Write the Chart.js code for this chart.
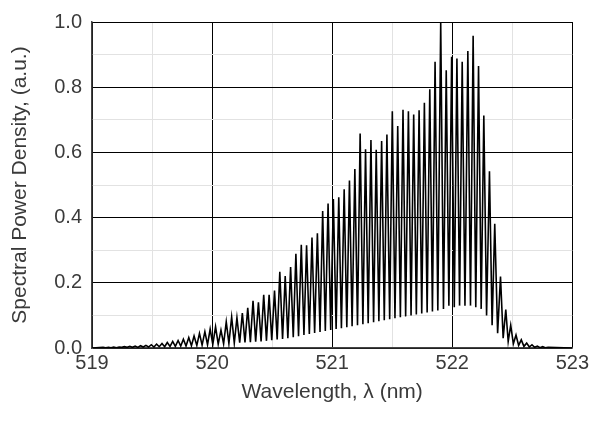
<!DOCTYPE html>
<html>
<head>
<meta charset="utf-8">
<script src="https://cdn.jsdelivr.net/npm/chart.js@4.4.1/dist/chart.umd.min.js"></script>
<style>
  html, body { margin: 0; padding: 0; background: #fff; }
  #wrap { width: 592px; height: 421px; }
</style>
</head>
<body>
<div id="wrap"><canvas id="spectrum"></canvas></div>
<script>
// fringe maxima (nm, a.u.)
var peakWl = [
  519.092, 519.137, 519.181, 519.226, 519.270, 519.315, 519.360, 519.404, 519.449, 519.494,
  519.538, 519.583, 519.627, 519.672, 519.717, 519.761, 519.806, 519.850, 519.895, 519.940,
  519.984, 520.029, 520.074, 520.118, 520.163, 520.207, 520.252, 520.297, 520.341, 520.386,
  520.430, 520.475, 520.520, 520.564, 520.609, 520.654, 520.698, 520.743, 520.787, 520.832,
  520.877, 520.921, 520.966, 521.010, 521.055, 521.100, 521.144, 521.189, 521.233, 521.278,
  521.323, 521.367, 521.412, 521.456, 521.501, 521.546, 521.590, 521.635, 521.679, 521.724,
  521.768, 521.813, 521.857, 521.904, 521.950, 521.995, 522.039, 522.083, 522.130, 522.174,
  522.219, 522.263, 522.310, 522.354, 522.402, 522.446, 522.487, 522.531, 522.575, 522.620,
  522.664, 522.709, 522.753, 522.798
];
var peakVal = [
  0.002, 0.002, 0.003, 0.003, 0.004, 0.005, 0.006, 0.007, 0.008, 0.010,
  0.012, 0.014, 0.017, 0.020, 0.023, 0.027, 0.032, 0.037, 0.045, 0.050,
  0.058, 0.065, 0.055, 0.080, 0.095, 0.093, 0.107, 0.123, 0.145, 0.140,
  0.163, 0.163, 0.176, 0.234, 0.221, 0.248, 0.289, 0.317, 0.315, 0.339,
  0.352, 0.420, 0.443, 0.457, 0.462, 0.487, 0.514, 0.549, 0.658, 0.610,
  0.638, 0.608, 0.635, 0.655, 0.726, 0.681, 0.731, 0.726, 0.716, 0.729,
  0.752, 0.794, 0.878, 1.000, 0.852, 0.893, 0.888, 0.878, 0.911, 0.958,
  0.865, 0.713, 0.542, 0.381, 0.219, 0.118, 0.070, 0.040, 0.025, 0.015,
  0.010, 0.006, 0.004, 0.002
];
// fringe minima
var troughWl = [
  519.114, 519.159, 519.203, 519.248, 519.293, 519.337, 519.382, 519.427, 519.471, 519.516,
  519.560, 519.605, 519.650, 519.694, 519.739, 519.783, 519.828, 519.873, 519.917, 519.962,
  520.006, 520.051, 520.096, 520.140, 520.185, 520.230, 520.274, 520.319, 520.363, 520.408,
  520.453, 520.497, 520.542, 520.587, 520.631, 520.676, 520.720, 520.765, 520.810, 520.854,
  520.899, 520.943, 520.988, 521.033, 521.077, 521.122, 521.166, 521.211, 521.256, 521.300,
  521.345, 521.389, 521.434, 521.479, 521.523, 521.568, 521.612, 521.657, 521.701, 521.746,
  521.791, 521.835, 521.880, 521.927, 521.972, 522.017, 522.061, 522.106, 522.152, 522.196,
  522.241, 522.286, 522.332, 522.378, 522.424, 522.466, 522.509, 522.553, 522.597, 522.642,
  522.686, 522.731, 522.775
];
var troughVal = [
  0.001, 0.001, 0.001, 0.002, 0.002, 0.002, 0.002, 0.003, 0.003, 0.003,
  0.004, 0.004, 0.005, 0.005, 0.006, 0.006, 0.007, 0.008, 0.009, 0.010,
  0.011, 0.012, 0.013, 0.014, 0.015, 0.016, 0.017, 0.018, 0.019, 0.020,
  0.022, 0.024, 0.026, 0.028, 0.030, 0.033, 0.036, 0.040, 0.043, 0.046,
  0.049, 0.052, 0.055, 0.058, 0.061, 0.064, 0.067, 0.070, 0.073, 0.076,
  0.079, 0.082, 0.085, 0.088, 0.091, 0.094, 0.097, 0.100, 0.103, 0.106,
  0.109, 0.112, 0.115, 0.120, 0.130, 0.125, 0.130, 0.130, 0.130, 0.125,
  0.120, 0.100, 0.070, 0.045, 0.030, 0.020, 0.013, 0.008, 0.005, 0.003,
  0.002, 0.001, 0.001
];
var xTicks = [519, 520, 521, 522, 523];
var yTicks = [0.0, 0.2, 0.4, 0.6, 0.8, 1.0];

// merge maxima and minima into one trace, ends pinned to zero
var pts = [{x: 519.0, y: 0}];
for (var i = 0; i < peakWl.length; i++) {
  pts.push({x: peakWl[i], y: peakVal[i]});
  if (i < troughWl.length) pts.push({x: troughWl[i], y: troughVal[i]});
}
pts.push({x: 523.0, y: 0});

var txt = '#3a3a3a';
var tickFont = {family: 'Liberation Sans, Arial, sans-serif', size: 20};
var titleFont = {family: 'Liberation Sans, Arial, sans-serif', size: 21};

function isMajor(v, list) {
  return list.some(function (t) { return Math.abs(t - v) < 1e-6; });
}

var ctx = document.getElementById('spectrum').getContext('2d');
var chart = new Chart(ctx, {
  type: 'line',
  data: {
    datasets: [{
      data: pts,
      borderColor: '#000',
      borderWidth: 1.6,
      pointRadius: 0,
      tension: 0,
      fill: false
    }]
  },
  options: {
    responsive: true,
    maintainAspectRatio: false,
    animation: false,
    layout: {padding: {top: 18, right: 16, left: 0, bottom: 0}},
    plugins: {legend: {display: false}, tooltip: {enabled: false}},
    scales: {
      x: {
        type: 'linear',
        min: 519, max: 523,
        afterFit: function (s) { s.height = 73; },
        ticks: {
          stepSize: 0.5, autoSkip: false, maxRotation: 0,
          color: txt, font: tickFont, padding: 3,
          callback: function (v) { return isMajor(v, xTicks) ? String(v) : ''; }
        },
        grid: {
          drawTicks: false,
          lineWidth: 1,
          color: function (c) { return c.tick && isMajor(c.tick.value, xTicks) ? '#000' : '#e2e2e2'; }
        },
        border: {color: '#444', width: 1.5},
        title: {display: true, text: 'Wavelength, λ (nm)', color: txt, font: titleFont, padding: {bottom: 16}}
      },
      y: {
        min: 0, max: 1,
        afterFit: function (s) { s.width = 92; },
        ticks: {
          stepSize: 0.1, autoSkip: false,
          color: txt, font: tickFont, padding: 10,
          callback: function (v) { return isMajor(v, yTicks) ? v.toFixed(1) : ''; }
        },
        grid: {
          drawTicks: false,
          lineWidth: 1,
          color: function (c) { return c.tick && isMajor(c.tick.value, yTicks) ? '#000' : '#e2e2e2'; }
        },
        border: {color: '#444', width: 1.5},
        title: {display: true, text: 'Spectral Power Density, (a.u.)', color: txt, font: titleFont, padding: {top: 8}}
      }
    }
  }
});
</script>
</body>
</html>
